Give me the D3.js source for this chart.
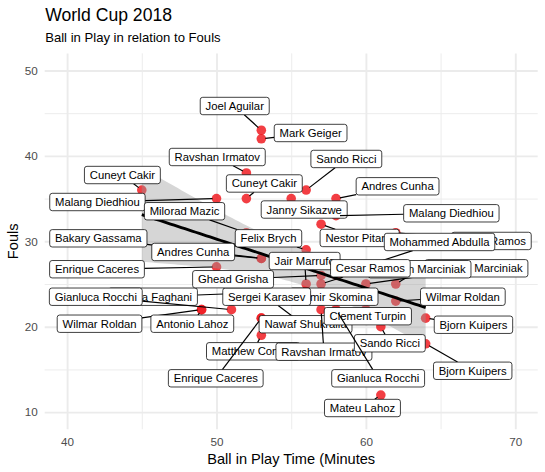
<!DOCTYPE html>
<html>
<head>
<meta charset="utf-8">
<script src="https://cdn.jsdelivr.net/npm/d3@7"></script>
<style>
body { margin: 0; background: #fff; }
svg { display: block; font-family: "Liberation Sans", Arial, Helvetica, sans-serif; }
</style>
</head>
<body>
<svg id="chart" width="545" height="472"></svg>
<script>
// one entry per match; labels listed so that boxes drawn later sit on top
var referees = [
  "Cesar Ramos", "Nestor Pitana", "Mohammed Abdulla", "Szymon Marciniak", "Szymon Marciniak",
  "Jair Marrufo", "Cesar Ramos", "Alireza Faghani", "Gianluca Rocchi", "Damir Skomina",
  "Sergei Karasev", "Nawaf Shukralla", "Clement Turpin", "Matthew Conger", "Ravshan Irmatov",
  "Sando Ricci", "Joel Aguilar", "Mark Geiger", "Ravshan Irmatov", "Sando Ricci",
  "Cuneyt Cakir", "Malang Diedhiou", "Cuneyt Cakir", "Andres Cunha", "Janny Sikazwe",
  "Malang Diedhiou", "Milorad Mazic", "Felix Brych", "Bakary Gassama", "Andres Cunha",
  "Enrique Caceres", "Ghead Grisha", "Wilmar Roldan", "Wilmar Roldan", "Antonio Lahoz",
  "Bjorn Kuipers", "Bjorn Kuipers", "Enrique Caceres", "Gianluca Rocchi", "Mateu Lahoz"
];
var ballInPlay = [
  62, 57, 58, 60, 62,
  56, 57, 53, 51, 57,
  56, 53, 60, 53, 57,
  61, 53, 53, 52, 56,
  45, 50, 52, 58, 55,
  58, 52, 56, 53, 53,
  50, 57, 62, 49, 49,
  64, 64, 53, 58, 61
];
var fouls = [
  31, 32, 26, 25, 25,
  25, 25, 24, 22, 24,
  20, 21, 22, 19, 22,
  20, 43, 42, 38, 36,
  36, 35, 35, 35, 35,
  33, 31, 29, 28, 28,
  27, 26, 23, 22, 22,
  21, 18, 21, 22, 12
];
// where the repelled label boxes ended up (data units)
var labelX = [
  68.40, 59.58, 64.93, 67.40, 63.59,
  55.90, 60.30, 45.74, 41.92, 57.87,
  53.36, 55.96, 60.13, 52.46, 57.19,
  61.60, 51.22, 56.30, 50.05, 58.69,
  43.70, 42.03, 53.20, 62.12, 55.87,
  65.72, 47.86, 53.48, 42.09, 48.44,
  42.00, 51.11, 66.49, 42.17, 48.38,
  67.20, 67.15, 49.95, 60.82, 59.77
];
var labelY = [
  30.04, 30.39, 29.92, 26.84, 26.73,
  27.69, 26.84, 23.51, 23.51, 23.51,
  23.51, 20.29, 21.23, 17.12, 17.07,
  18.06, 45.84, 42.68, 39.87, 39.64,
  37.76, 34.60, 36.77, 36.44, 33.72,
  33.28, 33.52, 30.35, 30.35, 28.75,
  26.73, 25.56, 23.51, 20.35, 20.35,
  20.23, 14.84, 13.96, 13.96, 10.48
];
var xTicks = [40, 50, 60, 70];
var xMinor = [45, 55, 65];
var yTicks = [10, 20, 30, 40, 50];
var yMinor = [15, 25, 35, 45];

var svg = d3.select("#chart");
var pLeft = 44.7, pRight = 537.7, pTop = 53.4, pBottom = 429.2;

var x = d3.scaleLinear().domain([38.5, 71.5]).range([pLeft, pRight]);
var y = d3.scaleLinear().domain([8, 52]).range([pBottom, pTop]);

// grid
var gridStyle = function(w) {
  return function(g) {
    g.select(".domain").remove();
    g.selectAll("line").attr("stroke", "#ebebeb").attr("stroke-width", w);
  };
};
var grid = svg.append("g");
grid.append("g").attr("transform", "translate(0," + pBottom + ")")
  .call(d3.axisBottom(x).tickValues(xMinor).tickSize(-(pBottom - pTop)).tickFormat(""))
  .call(gridStyle(0.95));
grid.append("g").attr("transform", "translate(" + pLeft + ",0)")
  .call(d3.axisLeft(y).tickValues(yMinor).tickSize(-(pRight - pLeft)).tickFormat(""))
  .call(gridStyle(0.95));
grid.append("g").attr("transform", "translate(0," + pBottom + ")")
  .call(d3.axisBottom(x).tickValues(xTicks).tickSize(-(pBottom - pTop)).tickFormat(""))
  .call(gridStyle(1.9));
grid.append("g").attr("transform", "translate(" + pLeft + ",0)")
  .call(d3.axisLeft(y).tickValues(yTicks).tickSize(-(pRight - pLeft)).tickFormat(""))
  .call(gridStyle(1.9));

// tick labels
var tickStyle = function(g) {
  g.select(".domain").remove();
  g.selectAll("text").attr("fill", "#4d4d4d").attr("font-size", "11.7px").attr("font-family", null);
};
svg.append("g").attr("transform", "translate(0," + pBottom + ")")
  .call(d3.axisBottom(x).tickValues(xTicks).tickSize(0).tickPadding(8.4))
  .call(tickStyle);
svg.append("g").attr("transform", "translate(" + pLeft + ",0)")
  .call(d3.axisLeft(y).tickValues(yTicks).tickSize(0).tickPadding(7))
  .call(tickStyle);

var pts = ballInPlay.map(function(d, i) {
  return { x: d, y: fouls[i], name: referees[i], lx: labelX[i], ly: labelY[i] };
});

// points
svg.append("g").selectAll("circle").data(pts).enter().append("circle")
  .attr("cx", function(d) { return x(d.x); })
  .attr("cy", function(d) { return y(d.y); })
  .attr("r", 4.8)
  .attr("fill", "#f01c22")
  .attr("fill-opacity", 0.85);

// linear fit with 95% band
var n = pts.length,
    mx = d3.mean(pts, function(d) { return d.x; }),
    my = d3.mean(pts, function(d) { return d.y; }),
    sxx = d3.sum(pts, function(d) { return (d.x - mx) * (d.x - mx); }),
    sxy = d3.sum(pts, function(d) { return (d.x - mx) * (d.y - my); }),
    slope = sxy / sxx,
    icpt = my - slope * mx,
    rss = d3.sum(pts, function(d) { var r = d.y - (icpt + slope * d.x); return r * r; }),
    sd = Math.sqrt(rss / (n - 2)),
    df = n - 2, z = 1.959964,
    tq = z + (z * z * z + z) / (4 * df) + (5 * Math.pow(z, 5) + 16 * z * z * z + 3 * z) / (96 * df * df);

var xr = d3.extent(pts, function(d) { return d.x; });
var fit = d3.range(80).map(function(i) {
  var xv = xr[0] + (xr[1] - xr[0]) * i / 79,
      yv = icpt + slope * xv,
      se = sd * Math.sqrt(1 / n + (xv - mx) * (xv - mx) / sxx);
  return { x: xv, y: yv, lo: yv - tq * se, hi: yv + tq * se };
});

svg.append("path").datum(fit)
  .attr("d", d3.area().x(function(d) { return x(d.x); })
    .y0(function(d) { return y(d.lo); }).y1(function(d) { return y(d.hi); }))
  .attr("fill", "#999999").attr("fill-opacity", 0.4);
svg.append("path").datum(fit)
  .attr("d", d3.line().x(function(d) { return x(d.x); }).y(function(d) { return y(d.y); }))
  .attr("fill", "none").attr("stroke", "#000").attr("stroke-width", 2.85);

// labels: segment, box, text per label
var padX = 5.3, boxH = 17.4;
var labels = svg.append("g");
pts.forEach(function(d) {
  var g = labels.append("g"),
      cx = x(d.lx), cy = y(d.ly),
      px = x(d.x), py = y(d.y);
  var seg = g.append("line");
  var rect = g.append("rect");
  var txt = g.append("text")
    .attr("x", cx).attr("y", cy + 4)
    .attr("text-anchor", "middle")
    .attr("font-size", "11.3px")
    .attr("fill", "#000")
    .text(d.name);
  var w = txt.node().getComputedTextLength() + 2 * padX;
  rect.attr("x", cx - w / 2).attr("y", cy - boxH / 2)
    .attr("width", w).attr("height", boxH)
    .attr("rx", 2.5).attr("ry", 2.5)
    .attr("fill", "#fff").attr("stroke", "#000").attr("stroke-width", 0.75);

  // where the centre-to-point line leaves the box
  var dx = px - cx, dy = py - cy;
  var tx = dx !== 0 ? (w / 2) / Math.abs(dx) : Infinity,
      ty = dy !== 0 ? (boxH / 2) / Math.abs(dy) : Infinity,
      t = Math.min(tx, ty);
  if (t >= 1) { seg.remove(); return; }
  var ex = cx + dx * t, ey = cy + dy * t,
      len = Math.sqrt((px - ex) * (px - ex) + (py - ey) * (py - ey));
  if (len < 6) { seg.remove(); return; }
  var k = (len - 4) / len;
  seg.attr("x1", ex).attr("y1", ey)
    .attr("x2", ex + (px - ex) * k).attr("y2", ey + (py - ey) * k)
    .attr("stroke", "#000").attr("stroke-width", 1.2);
});

// titles
svg.append("text").attr("x", 45.2).attr("y", 20.5)
  .attr("font-size", "17.6px").attr("fill", "#000").text("World Cup 2018");
svg.append("text").attr("x", 45.2).attr("y", 41.5)
  .attr("font-size", "13.1px").attr("fill", "#000").text("Ball in Play in relation to Fouls");
svg.append("text").attr("x", (pLeft + pRight) / 2).attr("y", 464)
  .attr("text-anchor", "middle").attr("font-size", "14.6px").attr("fill", "#000")
  .text("Ball in Play Time (Minutes");
svg.append("text").attr("transform", "translate(18," + ((pTop + pBottom) / 2) + ") rotate(-90)")
  .attr("text-anchor", "middle").attr("font-size", "14.6px").attr("fill", "#000")
  .text("Fouls");
</script>
</body>
</html>
